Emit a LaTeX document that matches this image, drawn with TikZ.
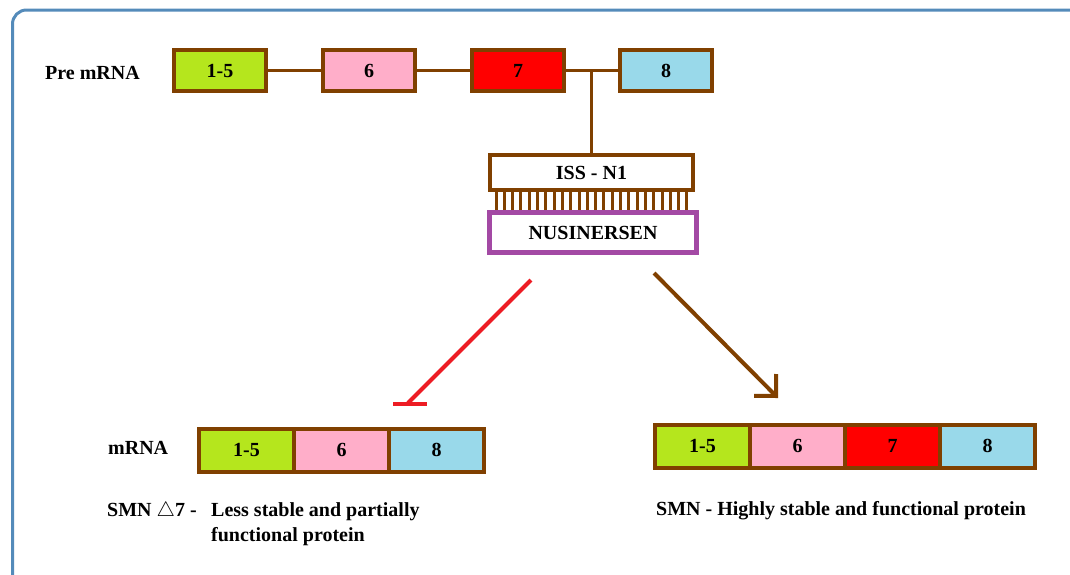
\documentclass[tikz,border=0pt]{standalone}
\usepackage{fontspec}
\setmainfont{Liberation Serif}
\usetikzlibrary{arrows.meta,calc}

\definecolor{exonline}{RGB}{128,64,0}
\definecolor{exgreen}{RGB}{181,230,29}
\definecolor{expink}{RGB}{255,174,201}
\definecolor{exred}{RGB}{255,0,0}
\definecolor{exblue}{RGB}{153,217,234}
\definecolor{asopurple}{RGB}{163,73,164}
\definecolor{blockred}{RGB}{237,28,36}
\definecolor{framebl}{RGB}{84,139,186}

\tikzset{
  lbl/.style={font=\bfseries\fontsize{20}{24}\selectfont},
  txt/.style={lbl, inner sep=0pt, anchor=base west},
  exon/.style={draw=exonline, line width=4pt, inner sep=0pt, lbl,
               minimum width=92pt, minimum height=41pt},
  cell/.style={draw=exonline, line width=4pt, inner sep=0pt, lbl,
               minimum width=95pt, minimum height=43pt},
  intron/.style={draw=exonline, line width=3pt},
  tooth/.style={draw=exonline, line width=3pt},
}

\begin{document}
\begin{tikzpicture}[x=1pt, y=-1pt]
  \useasboundingbox (0,0) rectangle (1070,574);
  \clip (0,0) rectangle (1070,574);

  % outer frame
  \draw[framebl, line width=3pt, rounded corners=14pt] (12.5,10) rectangle (1095,590);

  % pre-mRNA exons
  \node[txt] (pretxt) at (45,79) {Pre mRNA};
  \node[exon, fill=exgreen] (p15) at (220,70.5) {1-5};
  \node[exon, fill=expink]  (p6)  at (369,70.5) {6};
  \node[exon, fill=exred]   (p7)  at (518,70.5) {7};
  \node[exon, fill=exblue]  (p8)  at (666,70.5) {8};
  \draw[intron] (p15.east) -- (p6.west);
  \draw[intron] (p6.east) -- (p7.west);
  \draw[intron] (p7.east) -- (p8.west);

  % ISS-N1 site with bound nusinersen
  \node[draw=exonline, line width=4pt, fill=white, lbl,
        minimum width=203pt, minimum height=35pt, inner sep=0pt] (iss) at (591.5,172.5) {ISS - N1};
  \draw[intron] (iss.north) -- (iss.north |- p7.east);
  \foreach \k in {0,...,23} {
    \draw[tooth] ({496+8.3*\k},190) -- ({496+8.3*\k},212);
  }
  \node[draw=asopurple, line width=5pt, fill=white, lbl,
        minimum width=207pt, minimum height=40pt, inner sep=0pt] (nus) at (593,232.5) {NUSINERSEN};

  % inhibited and promoted outcomes
  \coordinate (rs) at (531,280);
  \coordinate (re) at (408,403);
  \draw[blockred, line width=4pt] (rs) -- (re);
  \draw[blockred, line width=4pt] ($(re)+(-15,1)$) -- ($(re)+(19,1)$);

  \coordinate (bs) at (654,273);
  \coordinate (be) at (778,398);
  \draw[exonline, line width=4pt, -{Straight Barb[angle=90:22pt, line width=4pt]}] (bs) -- (be);

  % SMN delta 7 transcript
  \node[txt] (mtxt) at (108,454) {mRNA};
  \node[cell, fill=exgreen] (m15) at (246.5,450) {1-5};
  \node[cell, fill=expink]  (m6)  at (341.5,450) {6};
  \node[cell, fill=exblue]  (m8)  at (436.5,450) {8};
  \node[txt] (d7a) at (107,516) {SMN $\triangle$7 -};
  \node[txt] (d7b) at (211,516) {Less stable and partially};
  \node[txt] (d7c) at (211,541) {functional protein};

  % full-length SMN transcript
  \node[cell, fill=exgreen] (f15) at (702.5,446) {1-5};
  \node[cell, fill=expink]  (f6)  at (797.5,446) {6};
  \node[cell, fill=exred]   (f7)  at (892.5,446) {7};
  \node[cell, fill=exblue]  (f8)  at (987.5,446) {8};
  \node[txt] (fl) at (656,515) {SMN - Highly stable and functional protein};
\end{tikzpicture}
\end{document}
